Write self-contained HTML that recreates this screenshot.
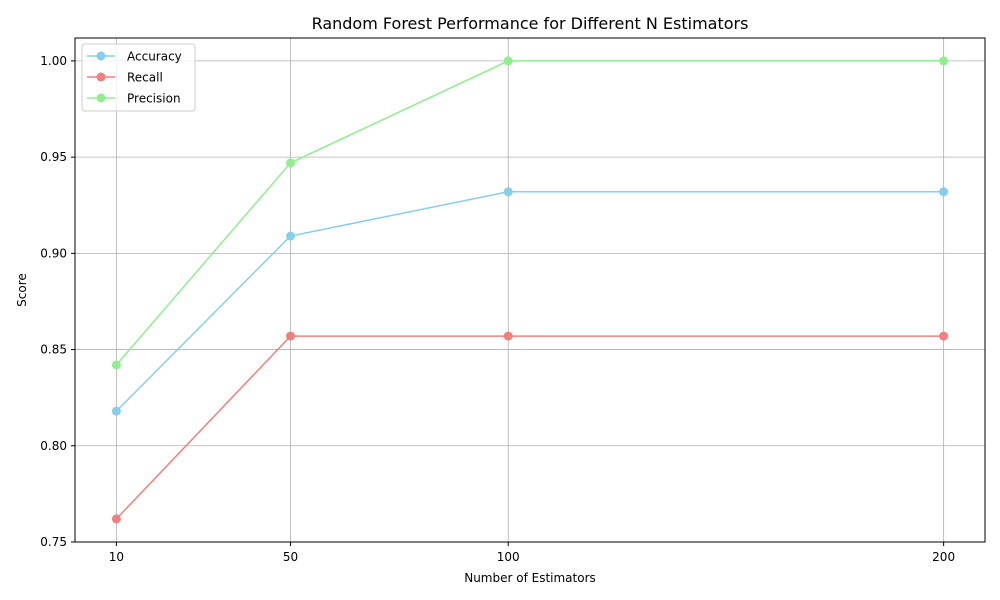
<!DOCTYPE html>
<html><head><meta charset="utf-8"><style>
body{margin:0;background:#fff;}
svg{display:block;font-family:"DejaVu Sans","Liberation Sans",sans-serif;}
</style></head><body>
<svg id="chart" width="1000" height="600" xmlns="http://www.w3.org/2000/svg">
<rect width="1000" height="600" fill="#fff"/>
<text x="530" y="29" font-size="16" text-anchor="middle">Random Forest Performance for Different N Estimators</text>
<g id="grid"></g>
<g id="series"></g>
<rect x="75" y="38" width="910" height="504" fill="none" stroke="#000" stroke-width="1"/>
<g id="ticks"></g>
<text x="530" y="582" font-size="12" text-anchor="middle">Number of Estimators</text>
<text x="26" y="290" font-size="12" text-anchor="middle" transform="rotate(-90 26 290)">Score</text>
<g id="legend">
<rect x="82" y="44" width="113" height="67" rx="3" fill="#fff" fill-opacity="0.8" stroke="#ccc"/>
</g>
</svg>
<script>
const categories=[10,50,100,200];
const accuracy=[0.818,0.909,0.932,0.932];
const recall=[0.762,0.857,0.857,0.857];
const precision=[0.842,0.947,1.0,1.0];
const yTicks=[0.75,0.80,0.85,0.90,0.95,1.00];
const seriesNames=["Accuracy","Recall","Precision"];
const NS="http://www.w3.org/2000/svg";
const L=75,R=985,T=38,B=542;
const xmin=0.5,xmax=209.5,ymin=0.75,ymax=1.0119;
const xs=v=>L+(v-xmin)/(xmax-xmin)*(R-L);
const ys=v=>B-(v-ymin)/(ymax-ymin)*(B-T);
function mk(tag,attrs,parent){const e=document.createElementNS(NS,tag);for(const k in attrs)e.setAttribute(k,attrs[k]);parent.appendChild(e);return e;}
const grid=document.getElementById('grid'),ticks=document.getElementById('ticks'),ser=document.getElementById('series'),leg=document.getElementById('legend');
categories.forEach(c=>{const x=xs(c);
 const g=mk('line',{x1:x,x2:x,y1:T,y2:B,stroke:'#b0b0b0','stroke-width':0.8},grid);
 
 
 const t=mk('line',{x1:x,x2:x,y1:B,y2:B+4,stroke:'#000'},ticks);
 
 
 const l=mk('text',{x:x,y:B+19,'font-size':12,'text-anchor':'middle'},ticks);l.textContent=c;
 
 
});
yTicks.forEach(v=>{const y=ys(v);
 const g=mk('line',{x1:L,x2:R,y1:y,y2:y,stroke:'#b0b0b0','stroke-width':0.8},grid);
 
 
 const t=mk('line',{x1:L-4,x2:L,y1:y,y2:y,stroke:'#000'},ticks);
 
 
 const l=mk('text',{x:L-8,y:y+4,'font-size':12,'text-anchor':'end'},ticks);l.textContent=v.toFixed(2);
 
 
});
const data=[accuracy,recall,precision],colors=['#87ceeb','#f08080','#90ee90'];
data.forEach((arr,i)=>{
 const g=mk('g',{},ser);
 
 
 mk('polyline',{points:arr.map((v,j)=>xs(categories[j])+','+ys(v)).join(' '),fill:'none',stroke:colors[i],'stroke-width':1.5},g);
 arr.forEach((v,j)=>{const p=mk('circle',{cx:xs(categories[j]),cy:ys(v),r:4.5,fill:colors[i]},g);
  
  });
 const y=56+i*21;
 const e=mk('g',{},leg);
 
 
 mk('line',{x1:87,x2:115,y1:y,y2:y,stroke:colors[i],'stroke-width':1.5},e);
 mk('circle',{cx:101,cy:y,r:4.5,fill:colors[i]},e);
 const t=mk('text',{x:127,y:y+4.5,'font-size':12},e);t.textContent=seriesNames[i];
});
</script>
</body></html>
